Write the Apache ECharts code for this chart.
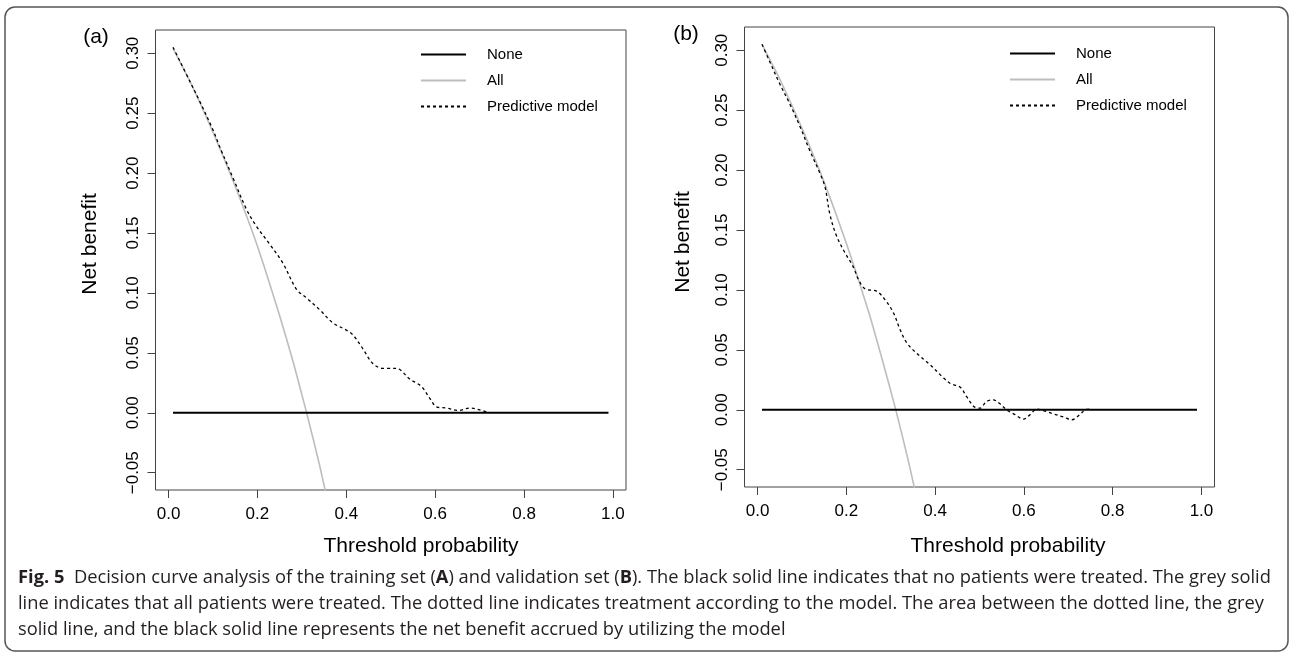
<!DOCTYPE html>
<html>
<head>
<meta charset="utf-8">
<script src="https://cdn.jsdelivr.net/npm/echarts@6/dist/echarts.min.js"></script>
<style>
  html, body { margin: 0; padding: 0; background: #fff; }
  #chart { width: 1292px; height: 653px; }
</style>
</head>
<body>
<div id="chart"></div>
<script>
// ---- data ----
// panel (a): training set
const allXA = [0.01, 0.05, 0.10, 0.15, 0.20, 0.25, 0.28, 0.31, 0.34, 0.37];
const allYA = [0.304, 0.275, 0.234, 0.189, 0.139, 0.081, 0.043, 0.001, -0.044, -0.094];
const modelXA = [0.01, 0.05, 0.07, 0.10, 0.115, 0.145, 0.175, 0.197, 0.227, 0.257, 0.288, 0.31, 0.34, 0.37,
  0.40, 0.415, 0.438, 0.46, 0.483, 0.513, 0.543, 0.569, 0.588, 0.603, 0.625, 0.652, 0.678, 0.70, 0.72];
const modelYA = [0.305, 0.275, 0.260, 0.236, 0.222, 0.196, 0.170, 0.156, 0.141, 0.125, 0.103, 0.096, 0.086, 0.075,
  0.069, 0.065, 0.053, 0.041, 0.037, 0.037, 0.028, 0.022, 0.012, 0.005, 0.004, 0.002, 0.004, 0.0025, 0.0];

// panel (b): validation set
const allXB = [0.01, 0.05, 0.10, 0.15, 0.20, 0.25, 0.28, 0.31, 0.34, 0.37];
const allYB = [0.305, 0.276, 0.235, 0.190, 0.139, 0.082, 0.043, 0.002, -0.043, -0.093];
const modelXB = [0.01, 0.028, 0.05, 0.073, 0.096, 0.118, 0.141, 0.152, 0.163, 0.178, 0.197, 0.216, 0.227, 0.242,
  0.268, 0.287, 0.306, 0.321, 0.336, 0.359, 0.389, 0.415, 0.434, 0.456, 0.471, 0.49, 0.501, 0.516, 0.531, 0.546,
  0.561, 0.58, 0.599, 0.614, 0.629, 0.644, 0.666, 0.689, 0.708, 0.726, 0.738, 0.749];
const modelYB = [0.305, 0.290, 0.272, 0.255, 0.236, 0.216, 0.197, 0.186, 0.163, 0.145, 0.131, 0.119, 0.109, 0.101,
  0.099, 0.092, 0.081, 0.067, 0.056, 0.047, 0.0375, 0.028, 0.022, 0.019, 0.011, 0.002, 0.0014, 0.007, 0.0083, 0.005,
  0.0, -0.004, -0.0078, -0.004, 0.0006, -0.0006, -0.0033, -0.006, -0.0083, -0.004, 0.0, 0.0006];

// "None": treat nobody, net benefit 0
const noneX = [0.01, 0.99];
const noneY = [0, 0];

const xTicks = [0, 0.2, 0.4, 0.6, 0.8, 1.0];
const yTicks = [-0.05, 0, 0.05, 0.10, 0.15, 0.20, 0.25, 0.30];
const seriesNames = ['None', 'All', 'Predictive model'];
const panelLabels = ['(a)', '(b)'];

const captionLines = [
  [['Fig. 5', true], ['  Decision curve analysis of the training set (', false], ['A', true], [') and validation set (', false], ['B', true], ['). The black solid line indicates that no patients were treated. The grey solid', false]],
  [['line indicates that all patients were treated. The dotted line indicates treatment according to the model. The area between the dotted line, the grey', false]],
  [['solid line, and the black solid line represents the net benefit accrued by utilizing the model', false]]
];

function zip(xs, ys) {
  return xs.map((x, i) => [x, ys[i]]);
}

const axisFont = 'Liberation Sans, Arial, Helvetica, sans-serif';
const capFont = '"Open Sans", "Noto Sans", sans-serif';
const capSize = 18;

// measure caption width so it can be squeezed like the condensed journal font
const ctx = document.createElement('canvas').getContext('2d');
function lineWidth(parts) {
  let w = 0;
  parts.forEach(p => {
    ctx.font = (p[1] ? 'bold ' : '') + capSize + 'px ' + capFont;
    w += ctx.measureText(p[0]).width;
  });
  return w;
}
const capScale = 1246 / lineWidth(captionLines[1]);

var myChart = echarts.init(document.getElementById('chart'));

// grids in pixels
const grids = [
  { left: 155.5, top: 30, width: 470.5, height: 460 },
  { left: 744.5, top: 27, width: 470, height: 460 }
];

let xAxes = [], yAxes = [], series = [], legends = [];
grids.forEach((g, k) => {
  xAxes.push({
    type: 'value', gridIndex: k, min: -0.0294, max: 1.0294,
    splitLine: { show: false },
    axisLine: { show: false, onZero: false },
    axisTick: { show: true, inside: false, length: 8, customValues: xTicks, lineStyle: { color: '#444', width: 1 } },
    axisLabel: {
      customValues: xTicks, margin: 16, color: '#000', fontSize: 17, fontFamily: axisFont,
      formatter: v => v.toFixed(1)
    }
  });
  yAxes.push({
    type: 'value', gridIndex: k, min: -0.0644, max: 0.3194,
    splitLine: { show: false },
    axisLine: { show: false, onZero: false },
    axisTick: { show: true, inside: false, length: 8, customValues: yTicks, lineStyle: { color: '#444', width: 1 } },
    axisLabel: {
      customValues: yTicks, margin: 14, rotate: 90, color: '#000', fontSize: 17, fontFamily: axisFont,
      formatter: v => (v < 0 ? '\u2212' : '') + Math.abs(v).toFixed(2)
    }
  });
  const allData = k === 0 ? zip(allXA, allYA) : zip(allXB, allYB);
  const modelData = k === 0 ? zip(modelXA, modelYA) : zip(modelXB, modelYB);
  series.push({
    name: seriesNames[0], type: 'line', xAxisIndex: k, yAxisIndex: k, symbol: 'none',
    lineStyle: { color: '#000', width: 2 }, itemStyle: { color: '#000' },
    data: zip(noneX, noneY), z: 3
  });
  series.push({
    name: seriesNames[1], type: 'line', xAxisIndex: k, yAxisIndex: k, symbol: 'none', smooth: 0.2,
    lineStyle: { color: '#bdbdbd', width: 1.6 }, itemStyle: { color: '#bdbdbd' },
    data: allData, z: 2
  });
  series.push({
    name: seriesNames[2], type: 'line', xAxisIndex: k, yAxisIndex: k, symbol: 'none', smooth: 0.35,
    lineStyle: { color: '#000', width: 1.3, type: [3, 3] }, itemStyle: { color: '#000' },
    data: modelData, z: 4
  });
  legends.push({
    orient: 'vertical',
    left: k === 0 ? 415 : 1004,
    top: k === 0 ? 42 : 41,
    itemWidth: 45, itemHeight: 14, itemGap: 11,
    selectedMode: false,
    itemStyle: { opacity: 0 },
    data: seriesNames,
    textStyle: { fontSize: 15, fontFamily: axisFont, color: '#000', padding: [0, 0, 0, 16] }
  });
});

const textItems = [];
// panel letters
[[96, 37], [686, 34]].forEach((p, k) => {
  textItems.push({ type: 'text', x: p[0], y: p[1],
    style: { text: panelLabels[k], font: '21px ' + axisFont, fill: '#000', textAlign: 'center', textVerticalAlign: 'middle' } });
});
// axis titles
[[90, 244], [683, 242]].forEach(p => {
  textItems.push({ type: 'text', x: p[0], y: p[1], rotation: Math.PI / 2,
    style: { text: 'Net benefit', font: '21px ' + axisFont, fill: '#000', textAlign: 'center', textVerticalAlign: 'middle' } });
});
[[421, 546], [1008, 546]].forEach(p => {
  textItems.push({ type: 'text', x: p[0], y: p[1],
    style: { text: 'Threshold probability', font: '21px ' + axisFont, fill: '#000', textAlign: 'center', textVerticalAlign: 'middle' } });
});
// caption
[578, 604, 630].forEach((y, i) => {
  const parts = captionLines[i];
  textItems.push({ type: 'text', x: 18, y: y, scaleX: capScale,
    style: {
      text: parts.map(p => p[1] ? '{b|' + p[0] + '}' : p[0]).join(''),
      fontSize: capSize, fontFamily: capFont, fill: '#231f20',
      textAlign: 'left', textVerticalAlign: 'middle',
      rich: { b: { fontWeight: 'bold', fontSize: capSize, fontFamily: capFont, color: '#231f20' } }
    } });
});

this.option = {
  backgroundColor: '#fff',
  animation: false,
  grid: grids.map(g => Object.assign({ show: true, borderColor: '#444', borderWidth: 1, backgroundColor: 'transparent' }, g)),
  xAxis: xAxes,
  yAxis: yAxes,
  legend: legends,
  series: series,
  graphic: [
    { type: 'rect', shape: { x: 5, y: 7, width: 1283, height: 644, r: 10 }, style: { fill: 'none', stroke: '#555', lineWidth: 1.5 }, silent: true }
  ].concat(textItems)
};

myChart.setOption(this.option, true);
</script>
</body>
</html>
